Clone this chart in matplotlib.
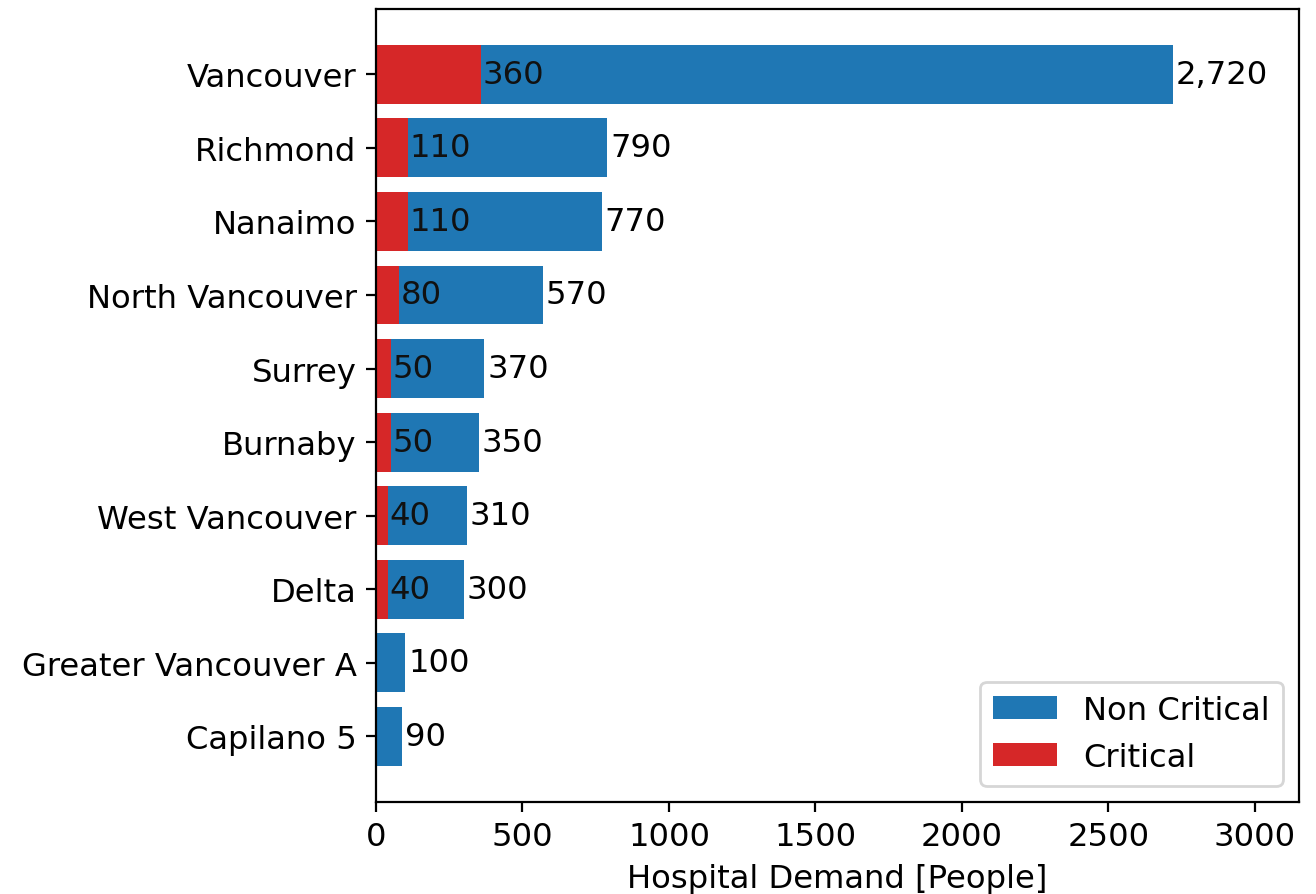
import numpy as np
import matplotlib
matplotlib.use("Agg")
import matplotlib.pyplot as plt

# hospital demand per area
areas = ["Vancouver", "Richmond", "Nanaimo", "North Vancouver", "Surrey",
         "Burnaby", "West Vancouver", "Delta", "Greater Vancouver A", "Capilano 5"]
total = [2720, 790, 770, 570, 370, 350, 310, 300, 100, 90]
critical = [360, 110, 110, 80, 50, 50, 40, 40, 5, 5]
critical_labels = ["360", "110", "110", "80", "50", "50", "40", "40", "", ""]

plt.rcParams["font.size"] = 11.6

fig = plt.figure(figsize=(6.58, 4.475), dpi=200)
ax = fig.add_axes([0.2857, 0.103, 0.7013, 0.886])

y = np.arange(len(areas))
ax.barh(y, total, color="#1f77b4", label="Non Critical")
ax.barh(y, critical, color="#d62728", label="Critical")

for i in range(len(areas)):
    ax.text(total[i] + 10, y[i], f"{total[i]:,}", va="center", ha="left")
    if critical_labels[i]:
        ax.text(critical[i] + 5, y[i], critical_labels[i], va="center", ha="left",
                color="#111111")

ax.set_yticks(y)
ax.set_yticklabels(areas)
ax.invert_yaxis()
ax.set_xlim(0, 3150)
ax.set_xlabel("Hospital Demand [People]")
ax.legend(loc="lower right")

fig.savefig("out.png", dpi=200)
